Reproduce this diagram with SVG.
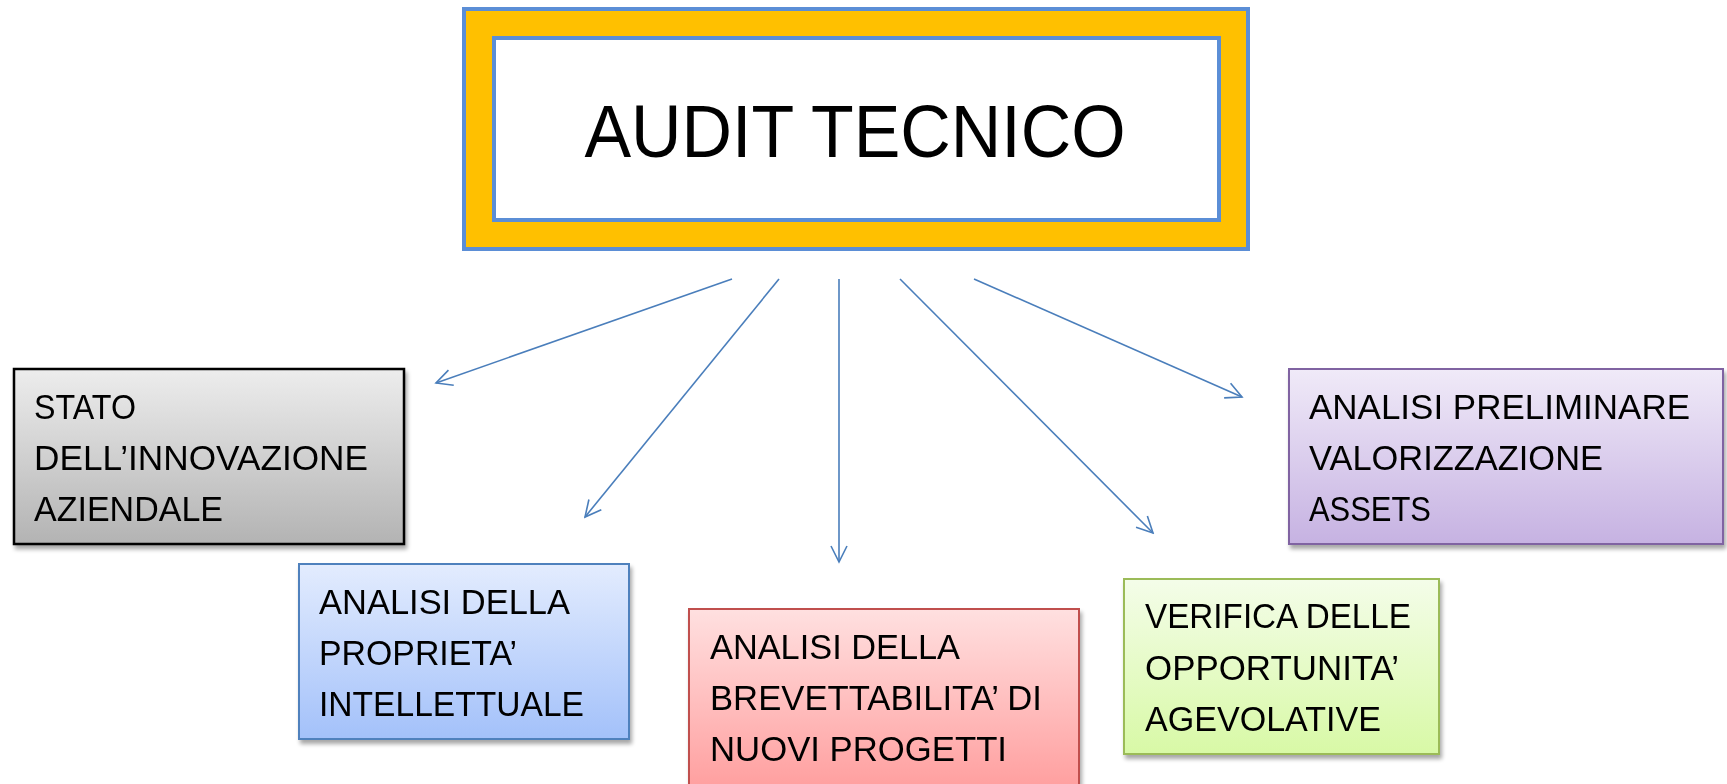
<svg xmlns="http://www.w3.org/2000/svg" width="1727" height="784" viewBox="0 0 1727 784">
<style>
.t{font-family:"Liberation Sans",Arial,sans-serif;font-size:35px;fill:#000}
.conn line{stroke:#4A7EBB;stroke-width:1.6;fill:none}
</style>
<defs>
<marker id="ah" viewBox="0 0 20 20" refX="18" refY="10" markerWidth="20" markerHeight="20" markerUnits="userSpaceOnUse" orient="auto">
<path d="M2,2 L18,10 L2,18" fill="none" stroke="#4A7EBB" stroke-width="1.6"/>
</marker>
<filter id="sh" x="-5%" y="-5%" width="115%" height="125%">
<feGaussianBlur in="SourceAlpha" stdDeviation="2"/>
<feOffset dx="2" dy="4"/>
<feComponentTransfer><feFuncA type="linear" slope="0.35"/></feComponentTransfer>
<feMerge><feMergeNode/><feMergeNode in="SourceGraphic"/></feMerge>
</filter>
<linearGradient id="gGray" x1="0" y1="0" x2="0" y2="1"><stop offset="0" stop-color="#EDEDED"/><stop offset="1" stop-color="#B3B3B3"/></linearGradient>
<linearGradient id="gBlue" x1="0" y1="0" x2="0" y2="1"><stop offset="0" stop-color="#E3ECFE"/><stop offset="1" stop-color="#A3C1FA"/></linearGradient>
<linearGradient id="gRed" x1="0" y1="0" x2="0" y2="1"><stop offset="0" stop-color="#FFE0E0"/><stop offset="1" stop-color="#FFA0A0"/></linearGradient>
<linearGradient id="gGreen" x1="0" y1="0" x2="0" y2="1"><stop offset="0" stop-color="#F4FDE9"/><stop offset="1" stop-color="#D8F9A6"/></linearGradient>
<linearGradient id="gPurple" x1="0" y1="0" x2="0" y2="1"><stop offset="0" stop-color="#F0EAF8"/><stop offset="1" stop-color="#C6B2E2"/></linearGradient>
</defs>
<rect width="1727" height="784" fill="#fff"/>

<g id="audit">
<rect x="464" y="9" width="784" height="240" fill="#FFC000" stroke="#5B8ED6" stroke-width="4"/>
<rect x="494" y="38" width="725" height="182" fill="#fff" stroke="#5B8ED6" stroke-width="4"/>
<text x="855" y="157" text-anchor="middle" font-family="Liberation Sans, Arial, sans-serif" font-size="74" textLength="541" lengthAdjust="spacingAndGlyphs">AUDIT TECNICO</text>
</g>

<g class="conn" id="connectors">
<line x1="732" y1="279" x2="436" y2="383" marker-end="url(#ah)"/>
<line x1="779" y1="279" x2="585" y2="517" marker-end="url(#ah)"/>
<line x1="839" y1="279" x2="839" y2="562" marker-end="url(#ah)"/>
<line x1="900" y1="279" x2="1153" y2="533" marker-end="url(#ah)"/>
<line x1="974" y1="279" x2="1242" y2="397" marker-end="url(#ah)"/>
</g>

<g id="stato" filter="url(#sh)">
<rect x="14" y="369" width="390" height="175" fill="url(#gGray)" stroke="#000" stroke-width="2.5"/>
<text class="t" x="34" y="419" textLength="102" lengthAdjust="spacingAndGlyphs">STATO</text>
<text class="t" x="34" y="470" textLength="334" lengthAdjust="spacingAndGlyphs">DELL’INNOVAZIONE</text>
<text class="t" x="34" y="521" textLength="189" lengthAdjust="spacingAndGlyphs">AZIENDALE</text>
</g>

<g id="proprieta" filter="url(#sh)">
<rect x="299" y="564" width="330" height="175" fill="url(#gBlue)" stroke="#4F81BD" stroke-width="2"/>
<text class="t" x="319" y="614" textLength="251" lengthAdjust="spacingAndGlyphs">ANALISI DELLA</text>
<text class="t" x="319" y="665" textLength="198" lengthAdjust="spacingAndGlyphs">PROPRIETA’</text>
<text class="t" x="319" y="716" textLength="265" lengthAdjust="spacingAndGlyphs">INTELLETTUALE</text>
</g>

<g id="brevettabilita" filter="url(#sh)">
<rect x="689" y="609" width="390" height="176" fill="url(#gRed)" stroke="#C0504D" stroke-width="2"/>
<text class="t" x="710" y="659" textLength="250" lengthAdjust="spacingAndGlyphs">ANALISI DELLA</text>
<text class="t" x="710" y="710" textLength="332" lengthAdjust="spacingAndGlyphs">BREVETTABILITA’ DI</text>
<text class="t" x="710" y="761" textLength="297" lengthAdjust="spacingAndGlyphs">NUOVI PROGETTI</text>
</g>

<g id="opportunita" filter="url(#sh)">
<rect x="1124" y="579" width="315" height="175" fill="url(#gGreen)" stroke="#9BBB59" stroke-width="2"/>
<text class="t" x="1145" y="628" textLength="266" lengthAdjust="spacingAndGlyphs">VERIFICA DELLE</text>
<text class="t" x="1145" y="680" textLength="254" lengthAdjust="spacingAndGlyphs">OPPORTUNITA’</text>
<text class="t" x="1145" y="731" textLength="236" lengthAdjust="spacingAndGlyphs">AGEVOLATIVE</text>
</g>

<g id="valorizzazione" filter="url(#sh)">
<rect x="1289" y="369" width="434" height="175" fill="url(#gPurple)" stroke="#8064A2" stroke-width="2"/>
<text class="t" x="1309" y="419" textLength="381" lengthAdjust="spacingAndGlyphs">ANALISI PRELIMINARE</text>
<text class="t" x="1309" y="470" textLength="294" lengthAdjust="spacingAndGlyphs">VALORIZZAZIONE</text>
<text class="t" x="1309" y="521" textLength="122" lengthAdjust="spacingAndGlyphs">ASSETS</text>
</g>
</svg>
